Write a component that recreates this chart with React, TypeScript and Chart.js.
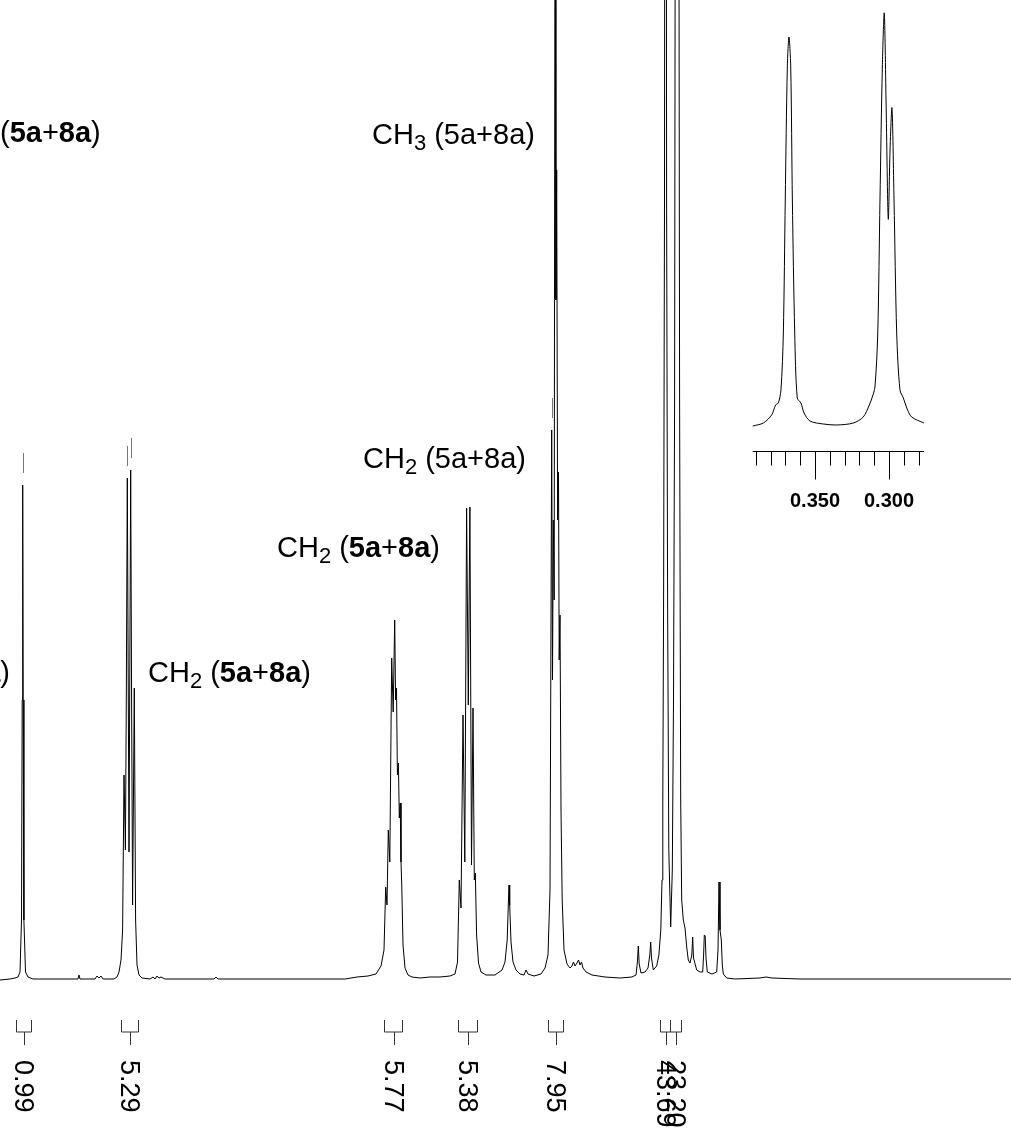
import React, { useEffect, useRef } from "react";
import { Chart, registerables } from "chart.js";

Chart.register(...registerables);

// ---- main 1H spectrum trace (chemical shift in ppm, intensity in arbitrary units) ----
const shiftPpm = [
  4.0, 3.95, 3.925, 3.91, 3.9, 3.8925, 3.889, 3.8865, 3.884, 3.8805, 3.8725, 3.86, 3.835,
  3.7, 3.61, 3.605, 3.6, 3.525, 3.515, 3.505, 3.495, 3.485,
  3.43, 3.415, 3.405, 3.395, 3.387, 3.38, 3.373, 3.3685, 3.3635, 3.355, 3.3465, 3.342, 3.337,
  3.3285, 3.322, 3.315, 3.305, 3.29,
  3.25, 3.235, 3.225, 3.215, 3.205, 3.195, 3.175, 2.93, 2.92, 2.91, 2.5,
  2.275, 2.215, 2.16, 2.12, 2.095, 2.08, 2.0715, 2.065, 2.0585, 2.051, 2.0415, 2.034, 2.0265,
  2.022, 2.0175, 2.013, 2.008, 2.0035, 1.999, 1.995, 1.991, 1.985, 1.975, 1.96, 1.94, 1.9,
  1.85, 1.8, 1.75, 1.725, 1.7125, 1.7035, 1.695, 1.685, 1.676, 1.667, 1.6585, 1.6505, 1.6425,
  1.635, 1.6285, 1.6235, 1.617, 1.6075, 1.595, 1.57,
  1.525, 1.49, 1.475, 1.464, 1.4585, 1.455, 1.4515, 1.445, 1.435, 1.42, 1.4, 1.38, 1.37, 1.36, 1.33,
  1.295, 1.275, 1.26, 1.25, 1.2415, 1.2375, 1.2335, 1.229, 1.224, 1.2205, 1.2165, 1.212, 1.2075,
  1.204, 1.2, 1.195, 1.189, 1.18, 1.165, 1.15, 1.14, 1.1325, 1.125, 1.115, 1.1075, 1.1, 1.0925,
  1.085, 1.07, 1.04, 0.975, 0.9,
  0.84, 0.82, 0.813, 0.8085, 0.804, 0.795, 0.775, 0.76, 0.751, 0.7465, 0.7425, 0.7335, 0.7165,
  0.7055, 0.696, 0.69, 0.686, 0.682, 0.6775, 0.6725, 0.667, 0.662, 0.656, 0.6465, 0.6385, 0.6325,
  0.627, 0.615, 0.602, 0.5965, 0.5915, 0.5835, 0.575, 0.566, 0.5585, 0.55, 0.541, 0.5365, 0.5325,
  0.5165, 0.5, 0.4865, 0.482, 0.4785, 0.474, 0.47, 0.4635, 0.44, 0.4165, 0.41, 0.405, 0.4, 0.3935,
  0.3885, 0.3835, 0.3665, 0.325, 0.2, 0.17, 0.14, 0.0, -1.055,
];
const intensity = [
  -1, 0, 1, 2, 7, 59, 279, 494, 279, 59, 7, 2, 0,
  0, 0, 4, 0, 0, 3, 1, 3, 0,
  0, 2, 7, 19, 49, 204, 129, 279, 501, 127, 509, 279, 74,
  291, 59, 14, 4, 1,
  0, 2, 0, 3, 1, 2, 0, 0, 2, 0, 0,
  0, 2, 3, 5, 13, 29, 92, 74, 149, 117, 321, 267, 359,
  279, 291, 204, 216, 161, 176, 117, 92, 34, 11, 4, 2, 1,
  2, 2, 3, 5, 17, 99, 71, 264, 117, 471, 274, 472, 114,
  271, 99, 106, 44, 16, 7, 4,
  4, 9, 17, 39, 74, 94, 74, 37, 17, 9, 5, 4, 9, 5, 3,
  5, 11, 24, 89, 549, 299, 459, 379, 1279, 679, 809, 459, 507,
  319, 364, 169, 79, 29, 15, 11, 13, 17, 13, 16, 19, 14, 17,
  11, 7, 4, 2, 1,
  2, 4, 17, 33, 15, 6, 7, 11, 24, 37, 21, 9, 13,
  24, 49, 99, 179, 379, 779, 2179, 779, 379, 129, 52, 109, 279,
  579, 2479, 579, 179, 79, 59, 51, 31, 19, 16, 24, 42, 21,
  9, 7, 7, 24, 44, 43, 21, 7, 5, 7, 29, 97, 49, 39,
  14, 5, 1, 0, 1, 2, 1, 0, 0,
];

// ---- inset (expanded region) ----
const insetPpm = [
  0.3921, 0.3849, 0.3793, 0.3766, 0.3748, 0.373, 0.3714, 0.3701, 0.3687, 0.3676, 0.3664, 0.3653,
  0.3637, 0.362, 0.3595, 0.3574, 0.3534, 0.3444, 0.3353, 0.3241, 0.3174, 0.3133, 0.3113, 0.3095,
  0.3076, 0.3061, 0.3045, 0.3032, 0.302, 0.3005, 0.2993, 0.298, 0.2966, 0.2948, 0.2926, 0.2903,
  0.288, 0.2847, 0.2764,
];
const insetIntensity = [
  -1, 2, 10, 20, 22, 35, 92, 225, 358, 388, 358, 225,
  92, 27, 22, 12, 4, 1, 0, 2, 8, 20, 28, 38,
  92, 225, 358, 412, 325, 206, 275, 317, 225, 92, 35, 27,
  17, 8, 2,
];
const insetMinorTicks = [0.39, 0.38, 0.37, 0.36, 0.35, 0.34, 0.33, 0.32, 0.31, 0.3, 0.29, 0.28];
const insetMajorTicks = [0.35, 0.3];
const insetTickLabels = ["0.350", "0.300"];
const insetAxisRange = [0.3921, 0.2764];

// ---- peak picking marks ----
const pickPpm = [3.8865, 3.3635, 3.3465, 1.2415];
const pickIntensity = [494, 501, 509, 549];

// ---- integrals ----
const integralFrom = [3.9195, 3.395, 2.081, 1.711, 1.26, 0.7, 0.6515];
const integralTo = [3.8455, 3.308, 1.988, 1.6145, 1.183, 0.6515, 0.5935];
const integralLabels = ["0.99", "5.29", "5.77", "5.38", "7.95", "43.69", "23.20"];

type Seg = { t: string; b?: boolean; sub?: boolean };
const FONT = '"Liberation Sans", Arial, sans-serif';

const annotations: { segs: Seg[]; x: number; y: number; align: "left" | "right" }[] = [
  { segs: [{ t: "(" }, { t: "5a", b: true }, { t: "+" }, { t: "8a", b: true }, { t: ")" }], x: 0, y: 142, align: "left" },
  { segs: [{ t: "CH" }, { t: "3", sub: true }, { t: " (5a+8a)" }], x: 372, y: 144, align: "left" },
  { segs: [{ t: "CH" }, { t: "2", sub: true }, { t: " (5a+8a)" }], x: 363, y: 468, align: "left" },
  { segs: [{ t: "CH" }, { t: "2", sub: true }, { t: " (" }, { t: "5a", b: true }, { t: "+" }, { t: "8a", b: true }, { t: ")" }], x: 277, y: 557, align: "left" },
  { segs: [{ t: "CH" }, { t: "2", sub: true }, { t: " (" }, { t: "5a", b: true }, { t: "+" }, { t: "8a", b: true }, { t: ")" }], x: 148, y: 682, align: "left" },
  { segs: [{ t: "8a", b: true }, { t: ")" }], x: 10, y: 682, align: "right" },
];

function segFont(s: Seg) {
  return `${s.b ? "bold " : ""}${s.sub ? 22 : 29}px ${FONT}`;
}

function drawRich(ctx: CanvasRenderingContext2D, segs: Seg[], x: number, y: number, align: "left" | "right") {
  let w = 0;
  for (const s of segs) {
    ctx.font = segFont(s);
    w += ctx.measureText(s.t).width;
  }
  let cx = align === "right" ? x - w : x;
  ctx.textAlign = "left";
  ctx.textBaseline = "alphabetic";
  for (const s of segs) {
    ctx.font = segFont(s);
    ctx.fillText(s.t, cx, y + (s.sub ? 6 : 0));
    cx += ctx.measureText(s.t).width;
  }
}

const decorPlugin = {
  id: "nmrDecor",
  afterDatasetsDraw(chart: any) {
    const ctx: CanvasRenderingContext2D = chart.ctx;
    const x = chart.scales.x;
    const y = chart.scales.y;
    const x2 = chart.scales.x2;
    const y2 = chart.scales.y2;
    ctx.save();

    // peak picking marks
    ctx.strokeStyle = "#777";
    ctx.lineWidth = 1;
    pickPpm.forEach((p, i) => {
      const px = Math.round(x.getPixelForValue(p)) + 0.5;
      const py = y.getPixelForValue(pickIntensity[i]);
      ctx.beginPath();
      ctx.moveTo(px, py - 12);
      ctx.lineTo(px, py - 32);
      ctx.stroke();
    });

    // integral brackets + rotated labels
    ctx.strokeStyle = "#333";
    const yTop = y.getPixelForValue(-41);
    const yMid = y.getPixelForValue(-53);
    const yBot = y.getPixelForValue(-66);
    const yText = y.getPixelForValue(-81);
    integralFrom.forEach((f, i) => {
      const a = Math.round(x.getPixelForValue(f)) + 0.5;
      const b = Math.round(x.getPixelForValue(integralTo[i])) + 0.5;
      const m = Math.round((a + b) / 2) + 0.5;
      ctx.beginPath();
      ctx.moveTo(a, yTop);
      ctx.lineTo(a, yMid);
      ctx.lineTo(b, yMid);
      ctx.lineTo(b, yTop);
      ctx.moveTo(m, yMid);
      ctx.lineTo(m, yBot);
      ctx.stroke();
      ctx.save();
      ctx.translate(m, yText);
      ctx.rotate(Math.PI / 2);
      ctx.fillStyle = "#000";
      ctx.font = `27px ${FONT}`;
      ctx.textAlign = "left";
      ctx.textBaseline = "alphabetic";
      ctx.fillText(integralLabels[i], 0, 9.7);
      ctx.restore();
    });

    // inset axis
    ctx.strokeStyle = "#000";
    const ay = Math.round(y2.getPixelForValue(-26)) + 0.5;
    ctx.beginPath();
    ctx.moveTo(x2.getPixelForValue(insetAxisRange[0]), ay);
    ctx.lineTo(x2.getPixelForValue(insetAxisRange[1]), ay);
    insetMinorTicks.forEach((t) => {
      const tx = Math.round(x2.getPixelForValue(t)) + 0.5;
      const major = insetMajorTicks.some((m) => Math.abs(m - t) < 1e-6);
      ctx.moveTo(tx, ay);
      ctx.lineTo(tx, ay + (major ? 28 : 14));
    });
    ctx.stroke();
    ctx.fillStyle = "#000";
    ctx.font = `bold 20px ${FONT}`;
    ctx.textAlign = "center";
    ctx.textBaseline = "alphabetic";
    insetMajorTicks.forEach((t, i) => {
      ctx.fillText(insetTickLabels[i], x2.getPixelForValue(t), ay + 55);
    });

    // annotations
    ctx.fillStyle = "#000";
    annotations.forEach((a) => drawRich(ctx, a.segs, a.x, a.y, a.align));

    ctx.restore();
  },
};

export default function App() {
  const ref = useRef<HTMLCanvasElement | null>(null);
  useEffect(() => {
    document.body.style.margin = "0";
    const canvas = ref.current;
    if (!canvas) return;
    const chart = new Chart(canvas, {
      type: "line",
      data: {
        datasets: [
          {
            data: shiftPpm.map((p, i) => ({ x: p, y: intensity[i] })),
            xAxisID: "x",
            yAxisID: "y",
            borderColor: "#000",
            borderWidth: 1,
            pointRadius: 0,
            tension: 0,
            fill: false,
          },
          {
            data: insetPpm.map((p, i) => ({ x: p, y: insetIntensity[i] })),
            xAxisID: "x2",
            yAxisID: "y2",
            borderColor: "#000",
            borderWidth: 1,
            pointRadius: 0,
            tension: 0.3,
            fill: false,
          },
        ],
      },
      options: {
        responsive: false,
        animation: false,
        events: [],
        layout: { padding: 0 },
        plugins: { legend: { display: false }, tooltip: { enabled: false } },
        scales: {
          x: { type: "linear", reverse: true, min: -1.055, max: 4.0, display: false },
          y: { type: "linear", min: -165, max: 979, display: false },
          x2: { type: "linear", reverse: true, min: 0.21757, max: 0.90068, display: false },
          y2: { type: "linear", min: -719, max: 425, display: false },
        },
      } as any,
      plugins: [decorPlugin],
    });
    return () => chart.destroy();
  }, []);
  return (
    <div style={{ position: "relative", width: 1011, height: 1144, background: "#fff" }}>
      <canvas ref={ref} width={1011} height={1144} style={{ display: "block" }} />
    </div>
  );
}
